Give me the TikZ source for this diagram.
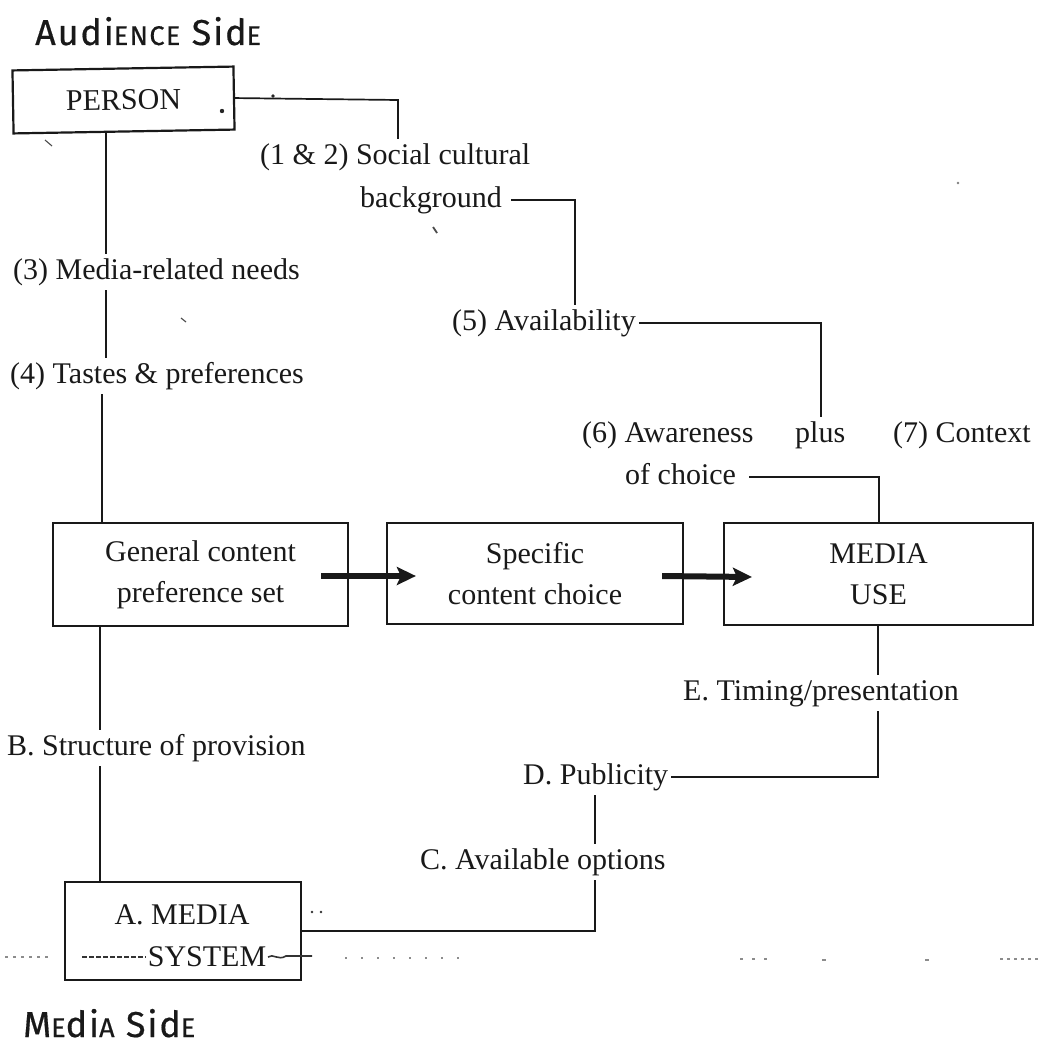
\documentclass[tikz,border=0pt]{standalone}
\usepackage{fontspec}
\setmainfont{Liberation Serif}
\newfontfamily\hdfont[LetterSpace=5,FakeBold=0.5]{Fira Sans}
\usetikzlibrary{arrows.meta}
\newcommand{\smc}[1]{{\fontsize{27}{27}\selectfont\MakeUppercase{#1}}}
\begin{document}
\begin{tikzpicture}[x=1pt,y=1pt,
  every node/.style={font=\fontsize{30}{41}\selectfont, text=black!90},
  lbl/.style={inner xsep=3pt, inner ysep=4pt, text height=21pt, text depth=7pt, anchor=west},
  mybox/.style={draw=black!90, line width=2.2pt, align=center, inner sep=0pt},
  conn/.style={line width=1.7pt, draw=black!90},
  bigarrow/.style={line width=6pt, draw=black!90, -{Stealth[length=19pt,width=18pt,inset=4pt]}},
  hd/.style={font=\hdfont\fontsize{36}{36}\selectfont, anchor=base west, inner sep=0pt},
  speck/.style={draw=black!70, line width=1.1pt},
  scan/.style={draw=black!45, line width=1.3pt}]
\fill[white] (0,0) rectangle (1042,-1057);
\useasboundingbox (0,0) rectangle (1042,-1057);

% headers
\node[hd] (hdA) at (35,-45) {Audi\smc{ence} Sid\smc{e}};
\node[hd] (hdM) at (23,-1037) {M\smc{e}di\smc{a} Sid\smc{e}};

% boxes
\node[mybox, rotate=1, minimum width=221pt, minimum height=63pt] (person) at (123.5,-100) {PERSON};
\node[mybox, minimum width=295pt, minimum height=103pt] (gen) at (200.5,-574.5) {General content\\preference set};
\node[mybox, minimum width=296pt, minimum height=101pt] (spec) at (535,-573.5) {Specific\\content choice};
\node[mybox, minimum width=309pt, minimum height=102pt] (media) at (878.5,-574) {MEDIA\\USE};
\node[mybox, minimum width=236pt, minimum height=98pt] (amedia) at (183,-931) {};
\node (amt1) at (182,-915) {A. MEDIA};
\node (amt2) at (207,-957) {SYSTEM};

% labels
\node[lbl] (l12) at (257,-157) {(1 \& 2) Social cultural};
\node[lbl] (lbg) at (357,-200) {background};
\node[lbl] (l3) at (10,-272) {(3) Media-related needs};
\node[lbl] (l5) at (449,-323) {(5) Availability};
\node[lbl] (l4) at (7,-376) {(4) Tastes \& preferences};
\node[lbl] (l6) at (579,-435) {(6) Awareness};
\node[lbl] (lplus) at (792,-435) {plus};
\node[lbl] (l7) at (890,-435) {(7) Context};
\node[lbl] (lof) at (622,-477) {of choice};
\node[lbl] (lE) at (680,-693) {E. Timing/presentation};
\node[lbl] (lB) at (4,-748) {B. Structure of provision};
\node[lbl] (lD) at (520,-777) {D. Publicity};
\node[lbl] (lC) at (417,-862) {C. Available options};

% bend coordinates
\coordinate (xp) at (398,-100);
\coordinate (xbg) at (575,0);
\coordinate (x5) at (821,0);
\coordinate (xo) at (879,0);
\coordinate (xl) at (106,0);
\coordinate (xl2) at (102,0);
\coordinate (xb) at (100,0);
\coordinate (xm) at (878,0);
\coordinate (xc) at (595,0);

% connectors, audience side
\draw[conn] (person.east) -- (xp) -- (l12.north -| xp);
\draw[conn] ([xshift=6pt]lbg.east) -- (xbg |- lbg.east) -- (l5.north -| xbg);
\draw[conn] (l5.east) -- (x5 |- l5.east) -- (lplus.north -| x5);
\draw[conn] ([xshift=10pt]lof.east) -- (xo |- lof.east) -- (media.north -| xo);
\draw[conn] (person.south -| xl) -- (l3.north -| xl);
\draw[conn] (l3.south -| xl) -- (l4.north -| xl);
\draw[conn] (l4.south -| xl2) -- (gen.north -| xl2);

% connectors, media side
\draw[conn] (gen.south -| xb) -- (lB.north -| xb);
\draw[conn] (lB.south -| xb) -- (amedia.north -| xb);
\draw[conn] (media.south -| xm) -- (lE.north -| xm);
\draw[conn] (lE.south -| xm) -- (xm |- lD.east) -- (lD.east);
\draw[conn] (lD.south -| xc) -- (lC.north -| xc);
\draw[conn] (lC.south -| xc) -- (xc |- amedia.east) -- (amedia.east);

% thick arrows
\draw[bigarrow] ([xshift=-28pt,yshift=-1.5pt]gen.east) -- ([xshift=30pt,yshift=-2.5pt]spec.west);
\draw[bigarrow] ([xshift=-22pt,yshift=-2.5pt]spec.east) -- ([xshift=29pt,yshift=-3pt]media.west);

% specks of the scan
\fill[black!85] (222,-111) circle (2.2pt);
\fill[black!85] (273,-96) circle (1.8pt);
\draw[speck] (45,-140) -- (52,-146);
\draw[speck, line width=1.8pt] (433,-227) -- (437,-233);
\draw[speck] (181,-318) -- (186,-322);
\fill[black!50] (958,-183) circle (1.3pt);
\fill[black!80] (312,-912) circle (1.3pt);
\fill[black!80] (321,-912) circle (1.3pt);

% broken scan line through SYSTEM
\draw[scan, dash pattern=on 3pt off 5pt] (5,-957) -- (48,-957);
\draw[draw=black!80, line width=1.6pt, dash pattern=on 5pt off 2pt] (82,-957) -- (146,-957);
\draw[draw=black!80, line width=1.6pt] (268,-957) .. controls (273,-953) and (278,-961) .. (286,-956) -- (312,-956);
\draw[scan, dash pattern=on 2pt off 14pt] (345,-958) -- (470,-958);
\draw[scan, dash pattern=on 3pt off 9pt] (740,-959) -- (775,-959);
\draw[scan] (822,-960) -- (826,-960);
\draw[scan] (925,-960) -- (929,-960);
\draw[scan, dash pattern=on 3pt off 4pt] (1000,-959) -- (1040,-959);
\end{tikzpicture}
\end{document}
